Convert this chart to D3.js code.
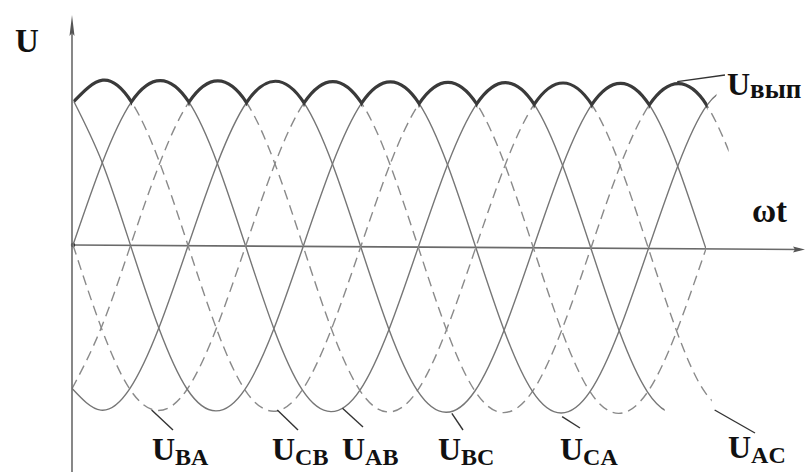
<!DOCTYPE html>
<html><head><meta charset="utf-8">
<script src="https://cdn.jsdelivr.net/npm/d3@7"></script>
<style>body{margin:0;background:#fff}svg{display:block}</style>
</head><body>
<svg id="c" width="805" height="472"></svg>
<script>
// ωt grid, degrees
const thetaDeg = [0,30,60,90,120,150,180,210,240,270,300,330,360,390,420,450,480,510,540,570,600,630,660,690];
// line voltages (relative to amplitude), read at the grid points
const U_AB = [0,.5,.87,1,.87,.5,0,-.5,-.87,-1,-.87,-.5, 0,.5,.87,1,.87,.5,0,-.5,-.87,-1,-.87,-.5];
const U_AC = [-.87,-.5,0,.5,.87,1,.87,.5,0,-.5,-.87,-1, -.87,-.5,0,.5,.87,1,.87,.5,0,-.5,-.87,-1];
const U_BC = [-.87,-1,-.87,-.5,0,.5,.87,1,.87,.5,0,-.5, -.87,-1,-.87,-.5,0,.5,.87,1,.87,.5,0,-.5];
const U_BA = [0,-.5,-.87,-1,-.87,-.5,0,.5,.87,1,.87,.5, 0,-.5,-.87,-1,-.87,-.5,0,.5,.87,1,.87,.5];
const U_CA = [.87,.5,0,-.5,-.87,-1,-.87,-.5,0,.5,.87,1, .87,.5,0,-.5,-.87,-1,-.87,-.5,0,.5,.87,1];
const U_CB = [.87,1,.87,.5,0,-.5,-.87,-1,-.87,-.5,0,.5, .87,1,.87,.5,0,-.5,-.87,-1,-.87,-.5,0,.5];
const seriesNames = ["AB","AC","BC","BA","CA","CB"];
const seriesValues = [U_AB,U_AC,U_BC,U_BA,U_CA,U_CB];
const seriesDashed = [false,true,false,true,false,true];
const seriesEnd = [618,667,660,683,670,660];   // last drawn ωt, degrees
const envelopeEnd = 660;
// labels: subscript, pointer tip (ωt, value)
const labelSubs = ["BA","CB","AB","BC","CA","AC","вып"];
const labelTipTheta = [82,213,281,395,510,669,630];
const labelTipValue = [-1,-1,-0.99,-1.02,-1.04,-1,0.99];

const svg = d3.select('#c');
const x = d3.scaleLinear().domain([0,660]).range([73,706]);
const y = d3.scaleLinear().domain([-1,1]).range([410,80]);
const line = d3.line().x((d,i)=>x(thetaDeg[i])).y(d=>y(d)).curve(d3.curveNatural);

const defs = svg.append('defs');
const g = svg.append('g').attr('transform','rotate(0.35,73,245)');

// x axis
g.append('line').attr('x1',x(0)).attr('x2',800).attr('y1',y(0)).attr('y2',y(0))
  .attr('stroke','#6a6a6a').attr('stroke-width',1.6);
g.append('path').attr('d',`M805,${y(0)} L793,${y(0)-3} L795,${y(0)} L793,${y(0)+3} Z`).attr('fill','#555');
g.append('circle').attr('cx',x(0)).attr('cy',y(0)).attr('r',2.2).attr('fill','#333');

// series
seriesValues.forEach((vals,i)=>{
  const id='clip'+i;
  defs.append('clipPath').attr('id',id).append('rect')
    .attr('x',0).attr('y',0).attr('width',x(seriesEnd[i])).attr('height',472);
  g.append('path').attr('d',line(vals)).attr('fill','none')
    .attr('stroke',seriesDashed[i]?'#8a8a8a':'#767676')
    .attr('stroke-width',1.4)
    .attr('stroke-dasharray',seriesDashed[i]?'10,6':null)
    .attr('clip-path',`url(#${id})`);
});

// envelope (rectified output): max series on each 60° interval
for(let t0=0;t0<envelopeEnd;t0+=60){
  const k = thetaDeg.indexOf(t0+30);
  let best=0;
  seriesValues.forEach((v,i)=>{ if(v[k]>seriesValues[best][k]) best=i; });
  const id='env'+t0;
  defs.append('clipPath').attr('id',id).append('rect')
    .attr('x',x(t0)-0.6).attr('y',0).attr('width',x(t0+60)-x(t0)+1.2).attr('height',y(0));
  g.append('path').attr('d',line(seriesValues[best])).attr('fill','none')
    .attr('stroke','#3a3a3a').attr('stroke-width',3.2).attr('clip-path',`url(#${id})`);
}

// y axis
svg.append('line').attr('x1',72).attr('x2',72).attr('y1',30).attr('y2',472)
  .attr('stroke','#6a6a6a').attr('stroke-width',1.6);
svg.append('path').attr('d','M72,15 L69.5,36 L72,33 L74.5,36 Z').attr('fill','#555');

// axis titles
const font = '"Liberation Serif","Times New Roman",serif';
svg.append('text').attr('x',15).attr('y',52).text('U')
  .attr('font-family',font).attr('font-weight','bold').attr('font-size',33).attr('fill','#111');
svg.append('text').attr('x',752).attr('y',222).text('ωt')
  .attr('font-family',font).attr('font-weight','bold').attr('font-size',33).attr('fill','#111');

// labels with leader lines
const leaderEnd = [[173,430],[298,430],[363,427],[463,430],[580,428],[755,433],[725,75]];
const textPos = [[152,460],[272,460],[342,460],[438,460],[560,460],[728,458],[727,95]];
labelSubs.forEach((s,i)=>{
  svg.append('line').attr('x1',x(labelTipTheta[i])).attr('y1',y(labelTipValue[i]))
    .attr('x2',leaderEnd[i][0]).attr('y2',leaderEnd[i][1])
    .attr('stroke','#333').attr('stroke-width',1.4);
  const t = svg.append('text').attr('x',textPos[i][0]).attr('y',textPos[i][1])
    .attr('font-family',font).attr('font-weight','bold').attr('fill','#111');
  t.append('tspan').attr('font-size',32).text('U');
  t.append('tspan').attr('font-size',s==='вып'?27:24).attr('dy',s==='вып'?3:5).text(s);
});
</script>
</body></html>
